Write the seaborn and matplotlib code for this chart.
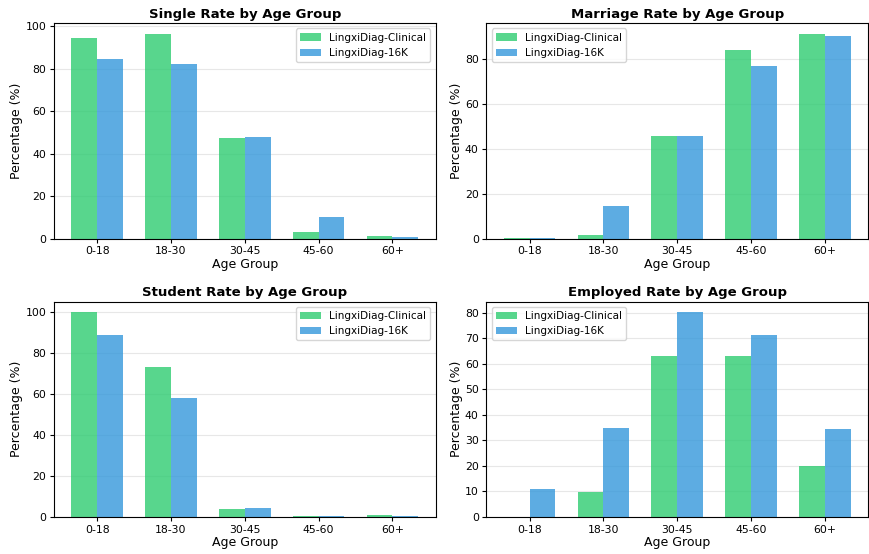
import matplotlib
matplotlib.use("Agg")
import matplotlib.pyplot as plt
import seaborn as sns
import pandas as pd

age_groups = ["0-18", "18-30", "30-45", "45-60", "60+"]
datasets = ["LingxiDiag-Clinical", "LingxiDiag-16K"]

single_clinical = [94.2, 96.5, 47.4, 3.0, 1.1]
single_16k = [84.4, 82.0, 47.9, 10.0, 0.5]

marriage_clinical = [0.2, 1.5, 45.7, 83.7, 91.2]
marriage_16k = [0.2, 14.3, 45.7, 76.6, 90.3]

student_clinical = [100.0, 73.3, 4.0, 0.6, 1.1]
student_16k = [88.9, 57.8, 4.5, 0.6, 0.6]

employed_clinical = [0.0, 9.9, 62.9, 62.9, 20.0]
employed_16k = [11.0, 34.8, 80.4, 71.4, 34.4]

panels = [
    ("Single Rate by Age Group", single_clinical, single_16k, "upper right"),
    ("Marriage Rate by Age Group", marriage_clinical, marriage_16k, "upper left"),
    ("Student Rate by Age Group", student_clinical, student_16k, "upper right"),
    ("Employed Rate by Age Group", employed_clinical, employed_16k, "upper left"),
]

palette = {"LingxiDiag-Clinical": "#2ecc71", "LingxiDiag-16K": "#3498db"}
group_width = 0.7

plt.rcParams["font.family"] = ["DejaVu Sans"]

fig, axes = plt.subplots(2, 2, figsize=(8.69, 5.54), dpi=100)
fig.subplots_adjust(left=0.062, right=0.999, top=0.958, bottom=0.067,
                    wspace=0.133, hspace=0.293)

for ax, (title, clinical, k16, loc) in zip(axes.flat, panels):
    df = pd.DataFrame({
        "Age Group": age_groups * 2,
        "Dataset": [datasets[0]] * len(age_groups) + [datasets[1]] * len(age_groups),
        "Percentage": clinical + k16,
    })
    sns.barplot(data=df, x="Age Group", y="Percentage", hue="Dataset",
                palette=palette, saturation=1, alpha=0.8, width=group_width,
                gap=0, linewidth=0, errorbar=None, ax=ax,
                order=age_groups, hue_order=datasets)
    # standard 5% x-margin around the outermost bars
    lo = -group_width / 2
    hi = len(age_groups) - 1 + group_width / 2
    pad = 0.05 * (hi - lo)
    ax.set_xlim(lo - pad, hi + pad)
    ax.set_title(title, fontsize=9.5, fontweight="bold", pad=4)
    ax.set_xlabel("Age Group", fontsize=9, labelpad=1)
    ax.set_ylabel("Percentage (%)", fontsize=9, labelpad=1.5)
    ax.tick_params(labelsize=7.8, length=3, pad=2.5)
    ax.grid(axis="y", alpha=0.3)
    ax.set_axisbelow(True)
    ax.legend(loc=loc, fontsize=7.5)

fig.savefig("out.png", dpi=100)
